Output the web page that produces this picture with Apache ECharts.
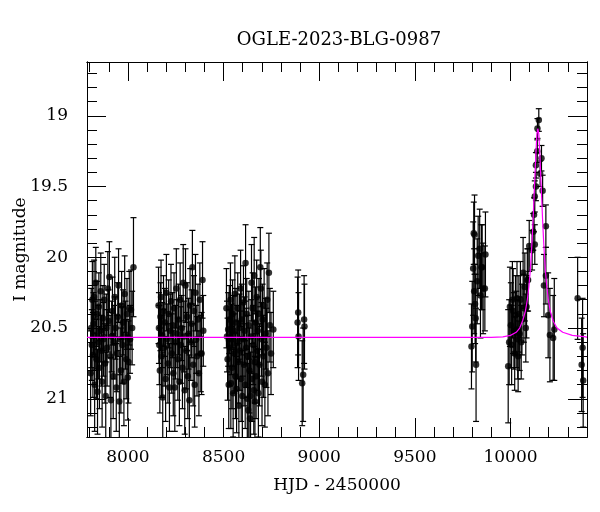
<!DOCTYPE html>
<html>
<head>
<meta charset="utf-8">
<script src="https://cdn.jsdelivr.net/npm/echarts@6/dist/echarts.min.js"></script>
<style>html,body{margin:0;padding:0;background:#fff}#c{width:600px;height:512px}</style>
</head>
<body>
<div id="c"></div>
<script>
// ---- data: [HJD-2450000, I mag, error] ----
const season1 = [
[7805,20.82,0.30],[7808,20.50,0.28],[7811,20.62,0.25],[7814,20.30,0.27],[7817,20.69,0.30],[7820,20.47,0.22],
[7823,20.28,0.26],[7826,20.90,0.33],[7829,20.55,0.24],[7832,20.18,0.25],[7835,20.72,0.28],[7838,20.40,0.23],
[7841,20.95,0.30],[7845,20.60,0.26],[7848,20.35,0.24],[7851,20.78,0.29],[7855,20.52,0.22],[7858,20.24,0.27],
[7862,20.66,0.25],[7865,20.88,0.32],[7869,20.43,0.23],[7872,20.58,0.26],[7876,20.30,0.25],[7880,20.75,0.28],
[7884,20.98,0.31],[7887,20.50,0.24],[7891,20.64,0.27],[7895,20.22,0.26],[7899,20.45,0.22],[7903,20.14,0.25],
[7907,20.70,0.29],[7911,21.01,0.30],[7915,20.56,0.25],[7919,20.38,0.24],[7923,20.84,0.30],[7927,20.60,0.26],
[7931,20.28,0.28],[7935,20.50,0.22],[7939,20.92,0.31],[7943,20.68,0.27],[7947,20.42,0.24],[7951,20.20,0.26],
[7955,21.02,0.32],[7959,20.58,0.25],[7963,20.80,0.30],[7967,20.34,0.24],[7971,20.62,0.27],[7975,20.46,0.23],
[7979,20.88,0.31],[7983,20.26,0.27],[7987,20.55,0.24],[7991,20.72,0.28],[7995,20.40,0.25],[7999,20.85,0.30],
[8003,20.74,0.29],[8007,20.36,0.26],[8011,20.58,0.24],[8016,20.37,0.28],[8022,20.50,0.26],[8029,20.07,0.35]
];
const season2 = [
[8160,20.34,0.27],[8162,20.50,0.25],[8164,20.62,0.28],[8167,20.80,0.30],[8170,20.42,0.24],[8173,20.28,0.26],
[8176,20.70,0.29],[8179,20.55,0.23],[8182,20.99,0.32],[8186,20.38,0.25],[8189,20.64,0.27],[8193,20.46,0.24],
[8197,20.86,0.30],[8201,20.25,0.27],[8205,20.58,0.25],[8209,20.75,0.28],[8213,20.40,0.24],[8217,20.92,0.31],
[8221,20.52,0.26],[8225,20.31,0.26],[8229,20.68,0.28],[8233,20.48,0.23],[8237,20.82,0.30],[8241,20.36,0.25],
[8245,20.92,0.31],[8249,20.60,0.26],[8253,20.22,0.28],[8257,20.54,0.24],[8261,20.72,0.29],[8265,20.44,0.25],
[8269,20.88,0.31],[8273,20.30,0.26],[8277,20.62,0.27],[8281,20.50,0.23],[8285,20.78,0.29],[8289,20.18,0.27],
[8293,20.56,0.25],[8297,20.94,0.31],[8301,20.20,0.26],[8305,20.66,0.27],[8309,20.42,0.24],[8313,20.84,0.30],
[8317,20.54,0.25],[8321,21.01,0.32],[8325,20.34,0.26],[8329,20.60,0.27],[8333,20.47,0.24],[8337,20.07,0.26],
[8341,20.76,0.29],[8345,20.38,0.25],[8349,20.90,0.30],[8353,20.25,0.27],[8357,20.58,0.24],[8361,20.70,0.28],
[8366,20.44,0.25],[8371,20.82,0.30],[8376,20.30,0.26],[8381,20.68,0.27],[8385,20.68,0.29],[8390,20.16,0.27],
[8394,20.52,0.25]
];
const season3 = [
[8515,20.36,0.28],[8518,20.56,0.25],[8521,20.72,0.29],[8524,20.51,0.26],[8527,20.90,0.31],[8530,20.44,0.24],
[8533,20.64,0.27],[8536,20.30,0.26],[8538,20.89,0.32],[8541,20.58,0.25],[8544,20.78,0.29],[8547,20.40,0.24],
[8550,20.96,0.31],[8553,20.52,0.25],[8556,20.68,0.28],[8559,20.26,0.27],[8562,20.84,0.30],[8565,20.46,0.24],
[8568,20.93,0.31],[8571,20.60,0.26],[8574,20.36,0.25],[8577,20.74,0.29],[8580,21.05,0.33],[8583,20.50,0.24],
[8586,20.66,0.28],[8589,20.22,0.27],[8592,20.86,0.30],[8595,20.44,0.25],[8598,20.98,0.32],[8601,20.58,0.26],
[8604,20.32,0.26],[8607,20.76,0.29],[8610,20.52,0.24],[8613,20.90,0.31],[8615,20.04,0.27],[8618,20.64,0.28],
[8621,20.40,0.25],[8624,21.00,0.32],[8627,20.70,0.29],[8629,21.08,0.33],[8632,20.48,0.24],[8635,20.80,0.30],
[8638,21.14,0.33],[8641,20.98,0.31],[8644,20.56,0.26],[8646,20.18,0.27],[8649,20.86,0.30],[8652,20.36,0.25],
[8655,20.62,0.28],[8658,20.94,0.31],[8660,20.13,0.27],[8663,20.74,0.29],[8664,21.02,0.32],[8667,20.46,0.25],
[8670,20.84,0.30],[8673,20.28,0.26],[8676,20.66,0.28],[8679,20.52,0.24],[8682,20.96,0.31],[8685,20.40,0.25],
[8688,20.76,0.29],[8692,20.07,0.28],[8695,20.22,0.27],[8698,20.58,0.26],[8701,20.88,0.31],[8704,20.44,0.25],
[8708,20.70,0.29],[8712,20.34,0.26],[8716,20.90,0.30],[8720,20.54,0.25],[8724,20.64,0.28],[8728,20.30,0.26],
[8732,20.82,0.30],[8737,20.11,0.28],[8742,20.48,0.26],[8748,20.68,0.29],[8760,20.51,0.27]
];
const season4 = [
[8887,20.46,0.32],[8890,20.39,0.30],[8892,20.56,0.31],[8911,20.89,0.30],[8916,20.83,0.33],[8921,20.44,0.31],[8923,20.49,0.30]
];
const season5 = [
[9796,20.63,0.30],[9800,20.49,0.32],[9805,20.08,0.33],[9808,19.83,0.22],[9810,20.24,0.30],[9812,19.84,0.28],
[9815,20.33,0.28],[9818,20.43,0.31],[9820,20.76,0.40],[9826,20.17,0.30],[9831,19.99,0.28],[9839,19.94,0.28],
[9843,20.27,0.30],[9848,20.07,0.30],[9852,20.07,0.30],[9857,20.22,0.32],[9866,20.22,0.30],[9869,19.98,0.30]
];
const season6 = [
[9988,20.77,0.40],[9993,20.60,0.30],[9997,20.35,0.28],[10002,20.48,0.30],[10006,20.62,0.28],[10010,20.30,0.27],
[10014,20.38,0.30],[10018,20.52,0.27],[10022,20.68,0.26],[10026,20.41,0.28],[10030,20.51,0.27],[10034,20.29,0.26],
[10038,20.58,0.28],[10040,20.70,0.25],[10044,20.40,0.27],[10048,20.54,0.26],[10052,20.30,0.27],[10056,20.60,0.26],
[10060,20.44,0.25],[10066,20.11,0.25],[10070,20.36,0.24],[10075,20.21,0.24],[10080,20.50,0.24],[10084,20.35,0.22],
[10088,20.16,0.22],[10092,20.16,0.22],[10098,19.92,0.18],[10113,19.95,0.14],[10119,19.82,0.13],[10123,19.70,0.12],
[10127,19.57,0.11],[10127,19.91,0.14],[10133,19.50,0.10],[10133,19.35,0.09],[10140,19.25,0.08],[10141,19.09,0.07],
[10148,19.03,0.08],[10155,19.41,0.09],[10162,19.30,0.09],[10168,19.53,0.11],[10175,20.20,0.22],[10185,19.78,0.15],
[10185,20.13,0.20],[10197,20.41,0.30],[10206,20.55,0.33],[10223,20.57,0.30],[10229,20.51,0.36]
];
const season7 = [
[10351,20.29,0.29],[10372,20.76,0.33],[10377,20.64,0.35],[10380,20.87,0.33]
];
// model light curve
const modelCurve = [
[7786,20.566],[9900,20.566],[9960,20.562],[10000,20.552],[10030,20.53],[10048,20.50],[10063,20.45],[10078,20.38],
[10088,20.30],[10096,20.21],[10103,20.10],[10108,20.00],[10113,19.88],[10118,19.74],[10123,19.58],[10128,19.42],
[10133,19.26],[10138,19.13],[10143,19.09],[10148,19.13],[10153,19.26],[10158,19.42],[10163,19.58],[10168,19.74],
[10173,19.88],[10178,20.00],[10183,20.10],[10190,20.21],[10198,20.30],[10208,20.38],[10223,20.45],[10243,20.50],
[10273,20.53],[10323,20.552],[10393,20.562],[10400,20.566]
];
// axis ticks
const xMajorTicks = [8000, 8500, 9000, 9500, 10000];
const xMinorTicks = [7800,7900,8000,8100,8200,8300,8400,8500,8600,8700,8800,8900,9000,9100,9200,9300,9400,9500,9600,9700,9800,9900,10000,10100,10200,10300];
const yMajorTicks = [19, 19.5, 20, 20.5, 21];
const yMinorTicks = [18.7,18.8,18.9,19,19.1,19.2,19.3,19.4,19.5,19.6,19.7,19.8,19.9,20,20.1,20.2,20.3,20.4,20.5,20.6,20.7,20.8,20.9,21,21.1,21.2];
const xRange = [7786, 10400];
const yRange = [18.62, 21.27];

const allObs = [].concat(season1, season2, season3, season4, season5, season6, season7);
const FONT = 'DejaVu Serif';

const chart = echarts.init(document.getElementById('c'));

function xAx(pos, ticks, len, labels, extra) {
  return Object.assign({
    type: 'value', position: pos, min: xRange[0], max: xRange[1],
    axisLine: { show: true, onZero: false, lineStyle: { color: '#000', width: 1 } },
    axisTick: { show: true, inside: true, length: len, customValues: ticks, lineStyle: { color: '#000', width: 1 } },
    axisLabel: labels ? { show: true, customValues: ticks, formatter: v => String(v), fontFamily: FONT, fontSize: 17, color: '#000', margin: 12 } : { show: false },
    splitLine: { show: false }
  }, extra || {});
}
function yAx(pos, ticks, len, labels, extra) {
  return Object.assign({
    type: 'value', position: pos, min: yRange[0], max: yRange[1], inverse: true,
    axisLine: { show: true, onZero: false, lineStyle: { color: '#000', width: 1 } },
    axisTick: { show: true, inside: true, length: len, customValues: ticks, lineStyle: { color: '#000', width: 1 } },
    axisLabel: labels ? { show: true, customValues: ticks, formatter: v => String(v), fontFamily: FONT, fontSize: 17, color: '#000', margin: 19 } : { show: false },
    splitLine: { show: false }
  }, extra || {});
}

const errStyle = { stroke: '#000', lineWidth: 1.2 };

chart.setOption({
  animation: false,
  backgroundColor: '#fff',
  grid: { left: 87, right: 13, top: 62, bottom: 75, containLabel: false, outerBoundsMode: 'none' },
  graphic: [{
    type: 'text', x: 339, y: 40,
    style: { text: 'OGLE-2023-BLG-0987', font: '18px "DejaVu Serif"', fill: '#000', textAlign: 'center', textVerticalAlign: 'middle' }
  }],
  xAxis: [
    xAx('bottom', xMajorTicks, 19, true, { name: 'HJD - 2450000', nameLocation: 'middle', nameGap: 40, nameMoveOverlap: false, nameTextStyle: { fontFamily: FONT, fontSize: 17, color: '#000' } }),
    xAx('bottom', xMinorTicks, 10, false),
    xAx('top', xMajorTicks, 19, false),
    xAx('top', xMinorTicks, 10, false)
  ],
  yAxis: [
    yAx('left', yMajorTicks, 19, true, { name: 'I magnitude', nameLocation: 'middle', nameGap: 58, nameRotate: 90, nameMoveOverlap: false, nameTextStyle: { fontFamily: FONT, fontSize: 17, color: '#000' } }),
    yAx('left', yMinorTicks, 10, false),
    yAx('right', yMajorTicks, 19, false),
    yAx('right', yMinorTicks, 10, false)
  ],
  series: [
    {
      type: 'custom', xAxisIndex: 0, yAxisIndex: 0, clip: true, z: 2,
      data: allObs.map(d => [d[0], d[1] - d[2], d[1] + d[2]]),
      renderItem: function (params, api) {
        const p1 = api.coord([api.value(0), api.value(1)]);
        const p2 = api.coord([api.value(0), api.value(2)]);
        return {
          type: 'group', children: [
            { type: 'line', shape: { x1: p1[0], y1: p1[1], x2: p2[0], y2: p2[1] }, style: errStyle },
            { type: 'line', shape: { x1: p1[0] - 3, y1: p1[1], x2: p1[0] + 3, y2: p1[1] }, style: errStyle },
            { type: 'line', shape: { x1: p2[0] - 3, y1: p2[1], x2: p2[0] + 3, y2: p2[1] }, style: errStyle }
          ]
        };
      }
    },
    {
      type: 'scatter', xAxisIndex: 0, yAxisIndex: 0, z: 3,
      symbol: 'circle', symbolSize: 6.5,
      itemStyle: { color: '#000' },
      data: allObs.map(d => [d[0], d[1]])
    },
    {
      type: 'line', xAxisIndex: 0, yAxisIndex: 0, z: 4,
      showSymbol: false, symbol: 'none',
      lineStyle: { color: '#ff00ff', width: 1.2 },
      data: modelCurve
    }
  ]
});
</script>
</body>
</html>
